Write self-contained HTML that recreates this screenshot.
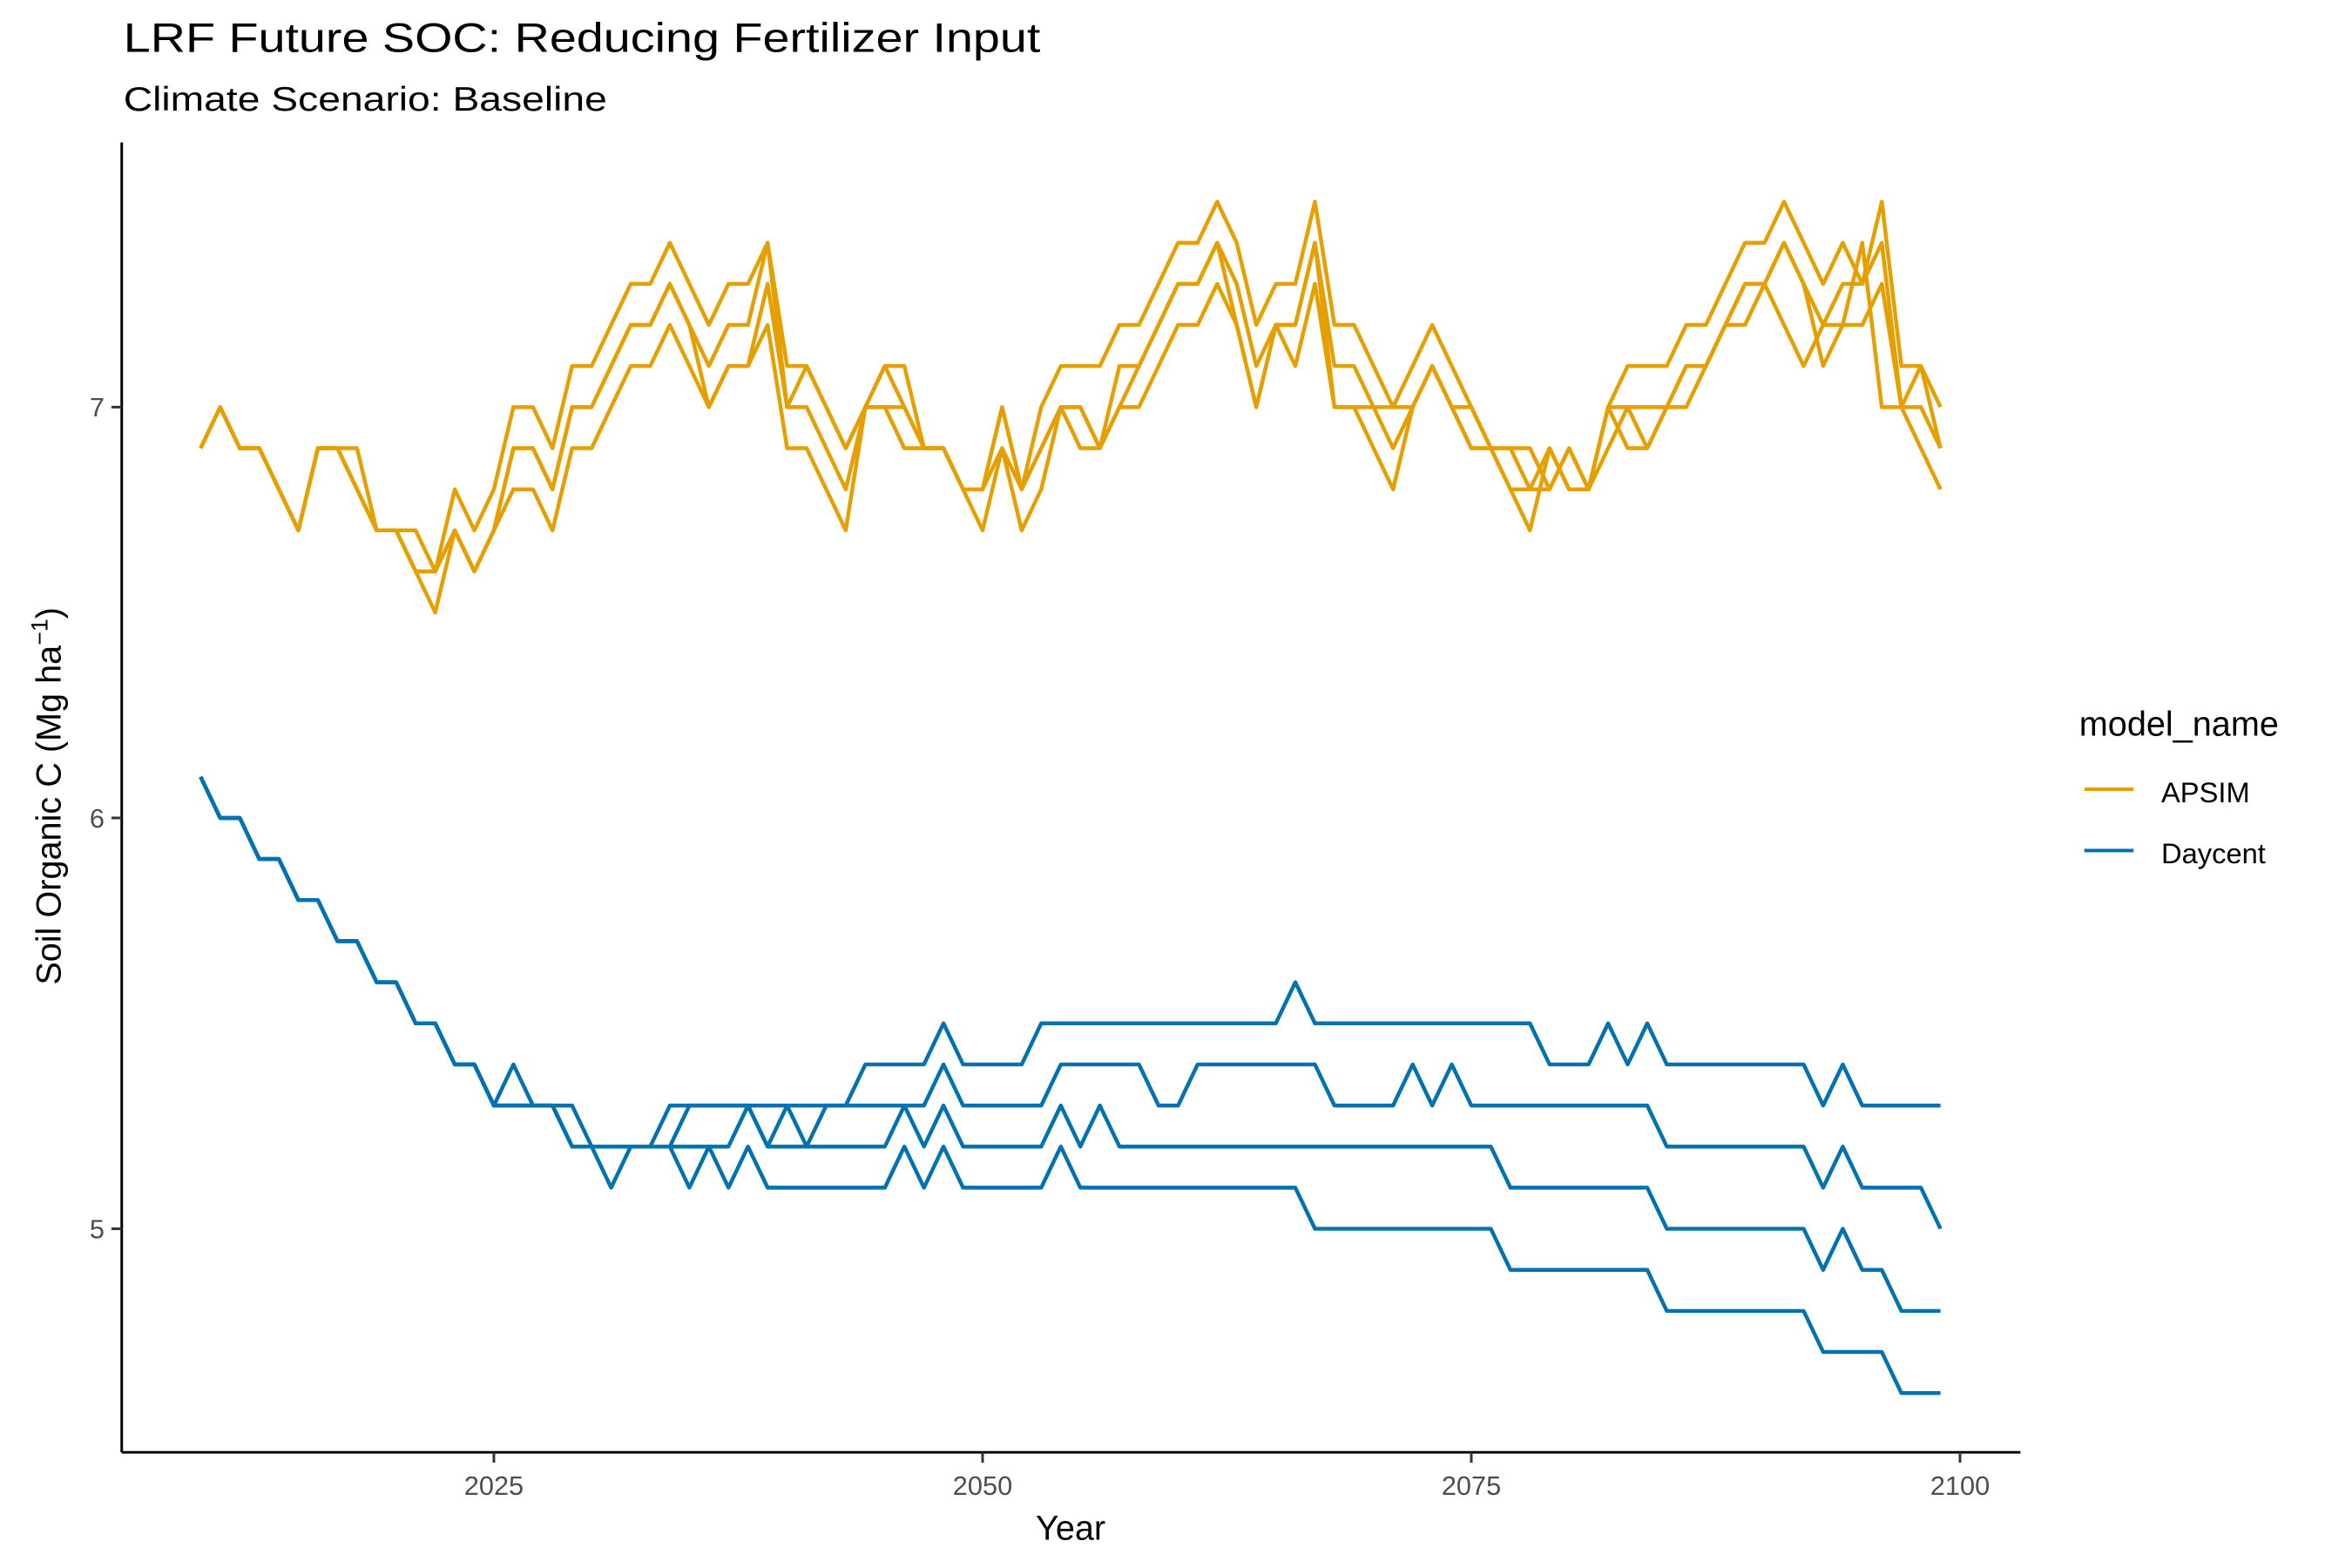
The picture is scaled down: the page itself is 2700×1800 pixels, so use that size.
<!DOCTYPE html>
<html><head><meta charset="utf-8">
<style>
html,body{margin:0;padding:0;background:#fff;}
svg{display:block;font-family:"Liberation Sans",Arial,sans-serif;}
</style></head>
<body>
<svg id="chart" width="2700" height="1800" viewBox="0 0 2700 1800" xmlns="http://www.w3.org/2000/svg">
  <rect width="2700" height="1800" fill="#fff"/>
  <g transform="scale(0.9912)">
  <text x="143" y="60" font-size="48" fill="#000" textLength="1062" lengthAdjust="spacingAndGlyphs">LRF  Future SOC: Reducing Fertilizer Input</text>
  <text x="143" y="128" font-size="39" fill="#000" textLength="560" lengthAdjust="spacingAndGlyphs">Climate Scenario: Baseline</text>
  <g id="plot"></g>
  <line x1="141" y1="165" x2="141" y2="1682" stroke="#000" stroke-width="3"/>
  <line x1="141" y1="1682" x2="2340" y2="1682" stroke="#000" stroke-width="3"/>
  <g id="xticks"></g>
  <g id="yticks"></g>
  <text x="1240" y="1783" font-size="40" text-anchor="middle" fill="#000">Year</text>
  <text transform="translate(70,922) rotate(-90)" font-size="40" text-anchor="middle" fill="#000">Soil Organic C (Mg ha<tspan baseline-shift="super" font-size="27">−1</tspan>)</text>
  <g transform="translate(21,2)">
    <text x="2387" y="850" font-size="40" fill="#000">model_name</text>
    <g>
      <line x1="2393" y1="912" x2="2450" y2="912" stroke="#E69F00" stroke-width="4"/>
      <text x="2482" y="927" font-size="33" fill="#000">APSIM</text>
    </g>
    <g>
      <line x1="2393" y1="983" x2="2450" y2="983" stroke="#0072B2" stroke-width="4"/>
      <text x="2482" y="998" font-size="33" fill="#000">Daycent</text>
    </g>
  </g>
  </g>
</svg>
<script>
const startYear = 2010;
const xTicks = [2025, 2050, 2075, 2100];
const yTicks = [5, 6, 7];
const apsim1 = [6.9,7.0,6.9,6.9,6.8,6.7,6.9,6.9,6.9,6.7,6.7,6.7,6.6,6.8,6.7,6.8,7.0,7.0,6.9,7.1,7.1,7.2,7.3,7.3,7.4,7.3,7.2,7.3,7.3,7.4,7.1,7.1,7.0,6.9,7.0,7.1,7.1,6.9,6.9,6.8,6.8,7.0,6.8,7.0,7.1,7.1,7.1,7.2,7.2,7.3,7.4,7.4,7.5,7.4,7.2,7.3,7.3,7.5,7.2,7.2,7.1,7.0,7.1,7.2,7.1,7.0,6.9,6.9,6.9,6.8,6.9,6.8,7.0,7.1,7.1,7.1,7.2,7.2,7.3,7.4,7.4,7.5,7.4,7.3,7.4,7.3,7.5,7.1,7.1,7.0];
const apsim2 = [6.9,7.0,6.9,6.9,6.8,6.7,6.9,6.9,6.8,6.7,6.7,6.6,6.6,6.7,6.6,6.7,6.9,6.9,6.8,7.0,7.0,7.1,7.2,7.2,7.3,7.2,7.1,7.2,7.2,7.4,7.0,7.1,7.0,6.9,7.0,7.1,7.0,6.9,6.9,6.8,6.8,6.9,6.8,6.9,7.0,7.0,6.9,7.1,7.1,7.2,7.3,7.3,7.4,7.3,7.1,7.2,7.2,7.4,7.1,7.1,7.0,7.0,7.0,7.1,7.0,7.0,6.9,6.9,6.8,6.8,6.9,6.8,6.9,7.0,7.0,7.0,7.1,7.1,7.2,7.3,7.3,7.4,7.3,7.2,7.3,7.3,7.4,7.0,7.1,6.9];
const apsim3 = [6.9,7.0,6.9,6.9,6.8,6.7,6.9,6.9,6.8,6.7,6.7,6.6,6.6,6.7,6.6,6.7,6.8,6.8,6.7,6.9,6.9,7.0,7.1,7.1,7.2,7.1,7.0,7.1,7.1,7.2,6.9,6.9,6.8,6.7,7.0,7.0,7.0,6.9,6.9,6.8,6.7,6.9,6.7,6.8,7.0,6.9,6.9,7.0,7.0,7.1,7.2,7.2,7.3,7.2,7.0,7.2,7.1,7.3,7.0,7.0,7.0,6.9,7.0,7.1,7.0,6.9,6.9,6.8,6.7,6.9,6.8,6.8,7.0,6.9,6.9,7.0,7.0,7.1,7.2,7.2,7.3,7.2,7.1,7.2,7.2,7.4,7.0,7.0,6.9,6.8];
const apsim4 = [6.9,7.0,6.9,6.9,6.8,6.7,6.9,6.9,6.8,6.7,6.7,6.6,6.5,6.7,6.6,6.7,6.9,6.9,6.8,7.0,7.0,7.1,7.2,7.2,7.3,7.2,7.0,7.1,7.1,7.3,7.0,7.0,6.9,6.8,7.0,7.0,6.9,6.9,6.9,6.8,6.8,7.0,6.8,6.9,7.0,7.0,6.9,7.0,7.1,7.2,7.3,7.3,7.4,7.2,7.0,7.2,7.2,7.4,7.0,7.0,6.9,6.8,7.0,7.1,7.0,6.9,6.9,6.8,6.8,6.9,6.8,6.8,7.0,7.0,6.9,7.0,7.1,7.1,7.2,7.3,7.3,7.4,7.3,7.1,7.2,7.2,7.3,7.0,7.0,6.9];
const daycent1 = [6.1,6.0,6.0,5.9,5.9,5.8,5.8,5.7,5.7,5.6,5.6,5.5,5.5,5.4,5.4,5.3,5.4,5.3,5.3,5.3,5.2,5.2,5.2,5.2,5.3,5.3,5.3,5.3,5.3,5.3,5.3,5.3,5.3,5.3,5.4,5.4,5.4,5.4,5.5,5.4,5.4,5.4,5.4,5.5,5.5,5.5,5.5,5.5,5.5,5.5,5.5,5.5,5.5,5.5,5.5,5.5,5.6,5.5,5.5,5.5,5.5,5.5,5.5,5.5,5.5,5.5,5.5,5.5,5.5,5.4,5.4,5.4,5.5,5.4,5.5,5.4,5.4,5.4,5.4,5.4,5.4,5.4,5.4,5.3,5.4,5.3,5.3,5.3,5.3,5.3];
const daycent2 = [6.1,6.0,6.0,5.9,5.9,5.8,5.8,5.7,5.7,5.6,5.6,5.5,5.5,5.4,5.4,5.3,5.3,5.3,5.3,5.2,5.2,5.2,5.2,5.2,5.2,5.3,5.3,5.3,5.3,5.2,5.3,5.2,5.3,5.3,5.3,5.3,5.3,5.3,5.4,5.3,5.3,5.3,5.3,5.3,5.4,5.4,5.4,5.4,5.4,5.3,5.3,5.4,5.4,5.4,5.4,5.4,5.4,5.4,5.3,5.3,5.3,5.3,5.4,5.3,5.4,5.3,5.3,5.3,5.3,5.3,5.3,5.3,5.3,5.3,5.3,5.2,5.2,5.2,5.2,5.2,5.2,5.2,5.2,5.1,5.2,5.1,5.1,5.1,5.1,5.0];
const daycent3 = [6.1,6.0,6.0,5.9,5.9,5.8,5.8,5.7,5.7,5.6,5.6,5.5,5.5,5.4,5.4,5.3,5.3,5.3,5.3,5.2,5.2,5.2,5.2,5.2,5.2,5.2,5.2,5.2,5.3,5.2,5.2,5.2,5.2,5.2,5.2,5.2,5.3,5.2,5.3,5.2,5.2,5.2,5.2,5.2,5.3,5.2,5.3,5.2,5.2,5.2,5.2,5.2,5.2,5.2,5.2,5.2,5.2,5.2,5.2,5.2,5.2,5.2,5.2,5.2,5.2,5.2,5.2,5.1,5.1,5.1,5.1,5.1,5.1,5.1,5.1,5.0,5.0,5.0,5.0,5.0,5.0,5.0,5.0,4.9,5.0,4.9,4.9,4.8,4.8,4.8];
const daycent4 = [6.1,6.0,6.0,5.9,5.9,5.8,5.8,5.7,5.7,5.6,5.6,5.5,5.5,5.4,5.4,5.3,5.3,5.3,5.3,5.2,5.2,5.1,5.2,5.2,5.2,5.1,5.2,5.1,5.2,5.1,5.1,5.1,5.1,5.1,5.1,5.1,5.2,5.1,5.2,5.1,5.1,5.1,5.1,5.1,5.2,5.1,5.1,5.1,5.1,5.1,5.1,5.1,5.1,5.1,5.1,5.1,5.1,5.0,5.0,5.0,5.0,5.0,5.0,5.0,5.0,5.0,5.0,4.9,4.9,4.9,4.9,4.9,4.9,4.9,4.9,4.8,4.8,4.8,4.8,4.8,4.8,4.8,4.8,4.7,4.7,4.7,4.7,4.6,4.6,4.6];

const NS = "http://www.w3.org/2000/svg";
function xScale(yr){ return 572 + (yr - 2025) * (2270 - 572) / 75; }
function yScale(v){ return 471.5 + (7 - v) * 475.8; }

const plot = document.getElementById('plot');
function drawSeries(vals, color, name){
  const p = document.createElementNS(NS, 'polyline');
  p.setAttribute('points', vals.map((v,i)=> xScale(startYear+i).toFixed(1)+','+yScale(v).toFixed(1)).join(' '));
  p.setAttribute('fill','none');
  p.setAttribute('stroke',color);
  p.setAttribute('stroke-width','4.5');
  p.setAttribute('stroke-linejoin','round');
  
  
  plot.appendChild(p);
}
drawSeries(daycent1,'#0072B2','daycent-line-1');
drawSeries(daycent2,'#0072B2','daycent-line-2');
drawSeries(daycent3,'#0072B2','daycent-line-3');
drawSeries(daycent4,'#0072B2','daycent-line-4');
drawSeries(apsim1,'#E69F00','apsim-line-1');
drawSeries(apsim2,'#E69F00','apsim-line-2');
drawSeries(apsim3,'#E69F00','apsim-line-3');
drawSeries(apsim4,'#E69F00','apsim-line-4');

const xg = document.getElementById('xticks');
xTicks.forEach(t=>{
  const x = xScale(t);
  const l = document.createElementNS(NS,'line');
  l.setAttribute('x1',x); l.setAttribute('x2',x); l.setAttribute('y1',1682); l.setAttribute('y2',1694);
  l.setAttribute('stroke','#333'); l.setAttribute('stroke-width','3');
  
  
  xg.appendChild(l);
  const tx = document.createElementNS(NS,'text');
  tx.setAttribute('x',x); tx.setAttribute('y',1731);
  tx.setAttribute('font-size','31'); tx.setAttribute('fill','#4d4d4d'); tx.setAttribute('text-anchor','middle');
  tx.textContent = t;
  
  
  xg.appendChild(tx);
});
const yg = document.getElementById('yticks');
yTicks.forEach(t=>{
  const y = yScale(t);
  const l = document.createElementNS(NS,'line');
  l.setAttribute('x1',129); l.setAttribute('x2',141); l.setAttribute('y1',y); l.setAttribute('y2',y);
  l.setAttribute('stroke','#333'); l.setAttribute('stroke-width','3');
  
  
  yg.appendChild(l);
  const tx = document.createElementNS(NS,'text');
  tx.setAttribute('x',121); tx.setAttribute('y',y+11);
  tx.setAttribute('font-size','31'); tx.setAttribute('fill','#4d4d4d'); tx.setAttribute('text-anchor','end');
  tx.textContent = t;
  
  
  yg.appendChild(tx);
});
</script>
</body></html>
